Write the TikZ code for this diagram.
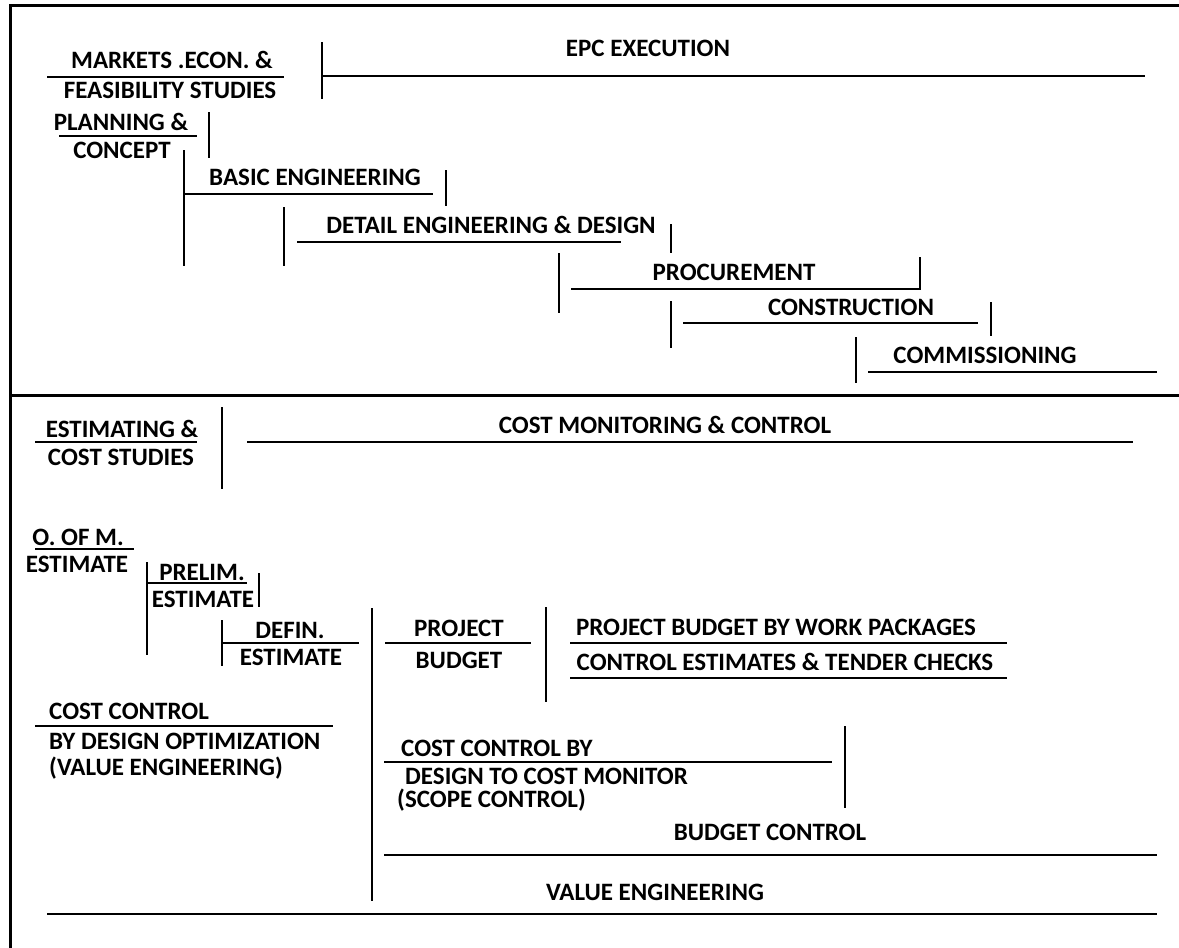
\documentclass[tikz,border=0pt]{standalone}
\usepackage{fontspec}
\setmainfont{Carlito}
\begin{document}
\begin{tikzpicture}[x=1pt,y=-1pt,
  lbl/.style={font=\fontsize{25}{28}\selectfont\bfseries, inner sep=0pt, anchor=base},
  lblw/.style={lbl, anchor=base west},
  bar/.style={line width=2pt},
  frameline/.style={line width=3pt}]
\useasboundingbox (0,0) rectangle (1179,948);
\fill[white] (0,0) rectangle (1179,948);

% outer frame and section divider
\draw[frameline] (1179,5) -- (10,5) -- (10,948);
\draw[frameline] (10,395) -- (1179,395);

% ---------------- EPC execution phases ----------------
\node[lbl] (mkt1) at (172,68) {MARKETS .ECON. \&};
\node[lbl] (mkt2) at (170,98) {FEASIBILITY STUDIES};
\node[lbl] (epc)  at (648,56) {EPC EXECUTION};
\node[lbl] (pln1) at (121,130) {PLANNING \&};
\node[lbl] (pln2) at (122,158) {CONCEPT};
\node[lbl] (basic) at (315,185) {BASIC ENGINEERING};
\node[lbl] (detail) at (491,233) {DETAIL ENGINEERING \& DESIGN};
\node[lbl] (proc) at (734,280) {PROCUREMENT};
\node[lbl] (constr) at (851,315) {CONSTRUCTION};
\node[lbl] (comm) at (985,363) {COMMISSIONING};

\draw[bar] (47,77) -- (284,77);
\draw[bar] (322,42) -- (322,99);
\draw[bar] (322,76) -- (1145,76);
\draw[bar] (59,136) -- (197,136);
\draw[bar] (209,112) -- (209,158);
\draw[bar] (184,150) -- (184,266);
\draw[bar] (184,194) -- (433,194);
\draw[bar] (446,170) -- (446,206);
\draw[bar] (284,207) -- (284,266);
\draw[bar] (297,242) -- (621,242);
\draw[bar] (671,224) -- (671,253);
\draw[bar] (559,253) -- (559,313);
\draw[bar] (571,289) -- (920,289) -- (920,257);
\draw[bar] (671,301) -- (671,348);
\draw[bar] (683,323) -- (978,323);
\draw[bar] (991,302) -- (991,336);
\draw[bar] (856,337) -- (856,383);
\draw[bar] (868,372) -- (1157,372);

% ---------------- cost monitoring and control ----------------
\node[lbl] (est1) at (122,437) {ESTIMATING \&};
\node[lbl] (est2) at (121,465) {COST STUDIES};
\node[lbl] (cmc)  at (665,433) {COST MONITORING \& CONTROL};
\node[lbl] (oom1) at (78,545) {O. OF M.};
\node[lbl] (oom2) at (77,572) {ESTIMATE};
\node[lbl] (pre1) at (202,580) {PRELIM.};
\node[lbl] (pre2) at (203,607) {ESTIMATE};
\node[lbl] (def1) at (290,638) {DEFIN.};
\node[lbl] (def2) at (291,665) {ESTIMATE};
\node[lbl] (pb1)  at (459,636) {PROJECT};
\node[lbl] (pb2)  at (459,668) {BUDGET};
\node[lbl] (wp)   at (776,635) {PROJECT BUDGET BY WORK PACKAGES};
\node[lbl] (tend) at (785,670) {CONTROL ESTIMATES \& TENDER CHECKS};
\node[lblw] (cc1) at (49,719) {COST CONTROL};
\node[lblw] (cc2) at (49,749) {BY DESIGN OPTIMIZATION};
\node[lblw] (cc3) at (49,775) {(VALUE ENGINEERING)};
\node[lblw] (dc1) at (401,756) {COST CONTROL BY};
\node[lblw] (dc2) at (405,784) {DESIGN TO COST MONITOR};
\node[lblw] (dc3) at (397,807) {(SCOPE CONTROL)};
\node[lbl] (bc)   at (770,840) {BUDGET CONTROL};
\node[lbl] (ve)   at (655,900) {VALUE ENGINEERING};

\draw[bar] (35,442) -- (197,442);
\draw[bar] (222,407) -- (222,489);
\draw[bar] (247,442) -- (1133,442);
\draw[bar] (35,549) -- (134,549);
\draw[bar] (147,562) -- (147,655);
\draw[bar] (147,583) -- (247,583);
\draw[bar] (259,573) -- (259,607);
\draw[bar] (222,620) -- (222,666);
\draw[bar] (222,643) -- (359,643);
\draw[bar] (372,608) -- (372,901);
\draw[bar] (385,643) -- (531,643);
\draw[bar] (546,607) -- (546,702);
\draw[bar] (570,643) -- (1007,643);
\draw[bar] (570,678) -- (1007,678);
\draw[bar] (35,726) -- (333,726);
\draw[bar] (384,762) -- (832,762);
\draw[bar] (845,726) -- (845,808);
\draw[bar] (384,855) -- (1157,855);
\draw[bar] (47,914) -- (1157,914);
\end{tikzpicture}
\end{document}
